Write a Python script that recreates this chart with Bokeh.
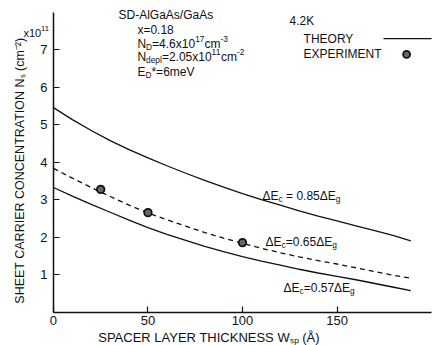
import math
from bokeh.plotting import figure
from bokeh.models import Range1d, FixedTicker, Label
from bokeh.embed import file_html
from bokeh.resources import INLINE

# ---- data ----
w_theory = [0, 10, 20, 30, 40, 50, 60, 70, 80, 90, 100, 110, 120, 130, 140, 150, 160, 170, 180, 189]
ns_085 = [5.45, 5.13, 4.84, 4.57, 4.33, 4.11, 3.90, 3.70, 3.51, 3.33, 3.16, 3.00, 2.85, 2.70, 2.56, 2.43, 2.30, 2.17, 2.04, 1.90]
ns_065 = [3.83, 3.57, 3.32, 3.08, 2.85, 2.64, 2.46, 2.29, 2.12, 1.97, 1.83, 1.70, 1.58, 1.47, 1.37, 1.28, 1.18, 1.08, 0.98, 0.90]
ns_057 = [3.32, 3.09, 2.87, 2.66, 2.45, 2.25, 2.07, 1.91, 1.75, 1.61, 1.48, 1.36, 1.25, 1.14, 1.04, 0.95, 0.86, 0.76, 0.66, 0.57]
w_exp = [25, 50, 100]
ns_exp = [3.27, 2.65, 1.85]
x_ticks = [0, 50, 100, 150]
y_ticks = [1, 2, 3, 4, 5, 6, 7]

FONT = "Liberation Sans"
INK = "#111111"
NB = "\u00a0"

p = figure(width=432, height=345, output_backend="svg", toolbar_location=None,
           x_range=Range1d(-28.0, 200.5), y_range=Range1d(-0.893, 8.307),
           min_border=0)
p.outline_line_color = None
p.xgrid.visible = False
p.ygrid.visible = False
p.background_fill_color = "white"
p.border_fill_color = "white"

p.xaxis.fixed_location = 0
p.yaxis.fixed_location = 0
p.xaxis.bounds = (0, 200)
p.yaxis.bounds = (0, 8)
for ax in (p.xaxis[0], p.yaxis[0]):
    ax.axis_line_width = 1.5
    ax.axis_line_color = INK
    ax.major_tick_in = 6
    ax.major_tick_out = 0
    ax.minor_tick_line_color = None
    ax.major_tick_line_color = INK
    ax.major_tick_line_width = 1.2
    ax.major_label_text_font = FONT
    ax.major_label_text_font_size = "13px"
    ax.major_label_text_color = INK
p.xaxis.ticker = FixedTicker(ticks=x_ticks)
p.yaxis.ticker = FixedTicker(ticks=y_ticks)
p.xaxis.major_label_standoff = 4
p.yaxis.major_label_standoff = 6

# curves
p.line(w_theory, ns_085, line_color=INK, line_width=1.3)
p.line(w_theory, ns_065, line_color=INK, line_width=1.3, line_dash="5 4")
p.line(w_theory, ns_057, line_color=INK, line_width=1.3)
p.scatter(w_exp, ns_exp, size=7.5, marker="circle", fill_color="#666666",
          line_color=INK, line_width=1.8)

# ---- rich text helper (segments: text, kind) ----
WID = {' ': 278, NB: 278, '.': 278, '=': 584, '-': 333, '*': 389, '/': 278, 'x': 500, 'c': 500,
       'm': 833, 'e': 556, 'V': 667, 'N': 722, 'E': 667, 'D': 722, 'Δ': 668, 'K': 667,
       'S': 667, 'A': 667, 'l': 222, 'G': 778, 'a': 556, 's': 500, 'd': 556, 'p': 556,
       'g': 556, 'T': 611, 'H': 722, 'O': 778, 'R': 722, 'Y': 667, 'X': 667, 'P': 667,
       'I': 278, 'M': 833}


def width(t, size):
    return sum(WID.get(ch, 556) for ch in t) * size / 1000.0


def rich(x, y, segs, size=12):
    off = 0.0
    for t, kind in segs:
        if kind == "n":
            fs, dy = size, 0
        elif kind == "sub":
            fs, dy = size * 0.7, -3
        else:
            fs, dy = size * 0.7, 5
        p.add_layout(Label(x=x, y=y, x_offset=off, y_offset=dy, text=t,
                           text_font=FONT, text_font_size=f"{fs:.1f}px",
                           text_baseline="middle", text_align="left",
                           text_color=INK))
        off += width(t, fs)


# header block
rich(34.4, 7.93, [("SD-AlGaAs/GaAs", "n")])
rich(44.4, 7.53, [("x=0.18", "n")])
rich(44.4, 7.16, [("N", "n"), ("D", "sub"), ("=4.6x10", "n"), ("17", "sup"), ("cm", "n"), ("-3", "sup")])
rich(44.4, 6.79, [("N", "n"), ("depl", "sub"), ("=2.05x10", "n"), ("11", "sup"), ("cm", "n"), ("-2", "sup")])
rich(44.4, 6.41, [("E", "n"), ("D", "sub"), ("*=6meV", "n")])

# legend-like block
rich(124.9, 7.75, [("4.2K", "n")])
rich(132.3, 7.29, [("THEORY", "n")])
rich(132.3, 6.87, [("EXPERIMENT", "n")])
leg_line_x = [174.6, 200]
leg_line_y = [7.29, 7.29]
p.line(leg_line_x, leg_line_y, line_color=INK, line_width=1.2)
p.scatter([186.8], [6.87], size=7, marker="circle", fill_color="#666666",
          line_color=INK, line_width=1.8)

# curve labels
rich(110.6, 3.10, [("ΔE", "n"), ("c", "sub"), (NB + "=" + NB + "0.85ΔE", "n"), ("g", "sub")])
rich(112.2, 1.88, [("ΔE", "n"), ("c", "sub"), ("=0.65ΔE", "n"), ("g", "sub")])
rich(121.7, 0.63, [("ΔE", "n"), ("c", "sub"), ("=0.57ΔE", "n"), ("g", "sub")])

# axis titles and multiplier
rich(-15.9, 7.43, [("x10", "n"), ("11", "sup")], size=11)
p.add_layout(Label(x=82.3, y=-0.68, text="SPACER LAYER THICKNESS Wₛₚ (Å)", text_font=FONT,
                   text_font_size="13px", text_baseline="middle", text_align="center",
                   text_color=INK))
p.add_layout(Label(x=-17.5, y=3.77, angle=math.pi / 2,
                   text="SHEET CARRIER CONCENTRATION Nₛ (cm⁻²)", text_font=FONT,
                   text_font_size="12.5px", text_baseline="middle", text_align="center",
                   text_color=INK))

open("out.html", "w").write(file_html(p, INLINE))
